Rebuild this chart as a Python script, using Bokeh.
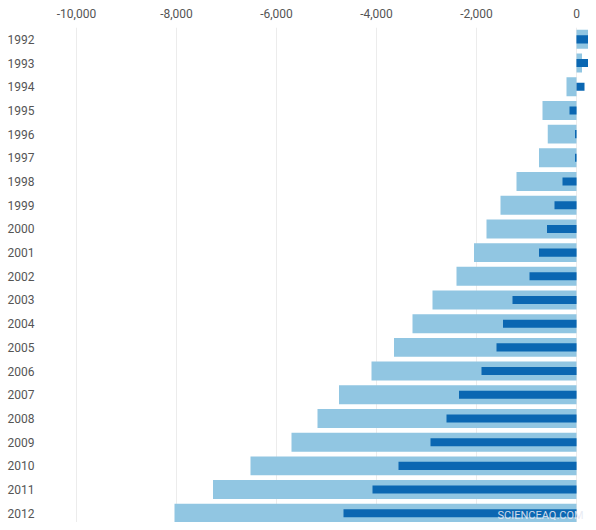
from bokeh.embed import file_html
from bokeh.resources import INLINE
from bokeh.models import ColumnDataSource, FixedTicker, NumeralTickFormatter, Range1d, Label, LinearAxis
from bokeh.plotting import figure

years = list(range(1992, 2013))

# wide light bars
total = [250, 110, -200, -680, -575, -750, -1200, -1520, -1800, -2050, -2400,
         -2880, -3280, -3650, -4100, -4750, -5180, -5700, -6520, -7270, -8040]

# narrow dark bars
part = [250, 320, 160, -140, -30, -30, -280, -440, -590, -750, -940,
        -1280, -1470, -1600, -1900, -2350, -2600, -2920, -3560, -4080, -4660]

x_ticks = [-10000, -8000, -6000, -4000, -2000, 0]

LIGHT = "#91c6e2"
DARK = "#0b67b2"
TEXT = "#555555"

source = ColumnDataSource(dict(year=years, total=total, part=part))

p = figure(width=588, height=522, output_backend="svg", toolbar_location=None,
           x_range=Range1d(-10520, 240), y_range=Range1d(2012.39, 1991.5),
           x_axis_location=None, y_axis_location=None,
           min_border_left=50, min_border_top=27, min_border_right=0, min_border_bottom=0)
p.outline_line_color = None

p.hbar(y="year", left=0, right="total", height=0.8, source=source,
       fill_color=LIGHT, line_color=None)
p.hbar(y="year", left=0, right="part", height=0.34, source=source,
       fill_color=DARK, line_color=None)

xaxis = LinearAxis(ticker=FixedTicker(ticks=x_ticks),
                   formatter=NumeralTickFormatter(format="0,0"))
yaxis = LinearAxis(ticker=FixedTicker(ticks=years))
for ax in (xaxis, yaxis):
    ax.axis_line_color = None
    ax.major_tick_line_color = None
    ax.minor_tick_line_color = None
    ax.major_label_text_font = "Roboto"
    ax.major_label_text_font_size = "12px"
    ax.major_label_text_color = TEXT
xaxis.major_label_standoff = 4
yaxis.major_label_standoff = 10
p.add_layout(xaxis, "above")
p.add_layout(yaxis, "left")

p.xgrid.ticker = FixedTicker(ticks=x_ticks)
p.ygrid.grid_line_color = None
p.xgrid.grid_line_color = "#ececec"

# watermark, screen units are relative to the plot frame
p.add_layout(Label(x=447, y=1, x_units="screen", y_units="screen", text="SCIENCEAQ.COM",
                   text_font="Roboto", text_font_size="11px", text_color="#e6e9f2",
                   text_alpha=0.9))

open("out.html", "w").write(file_html(p, INLINE))
